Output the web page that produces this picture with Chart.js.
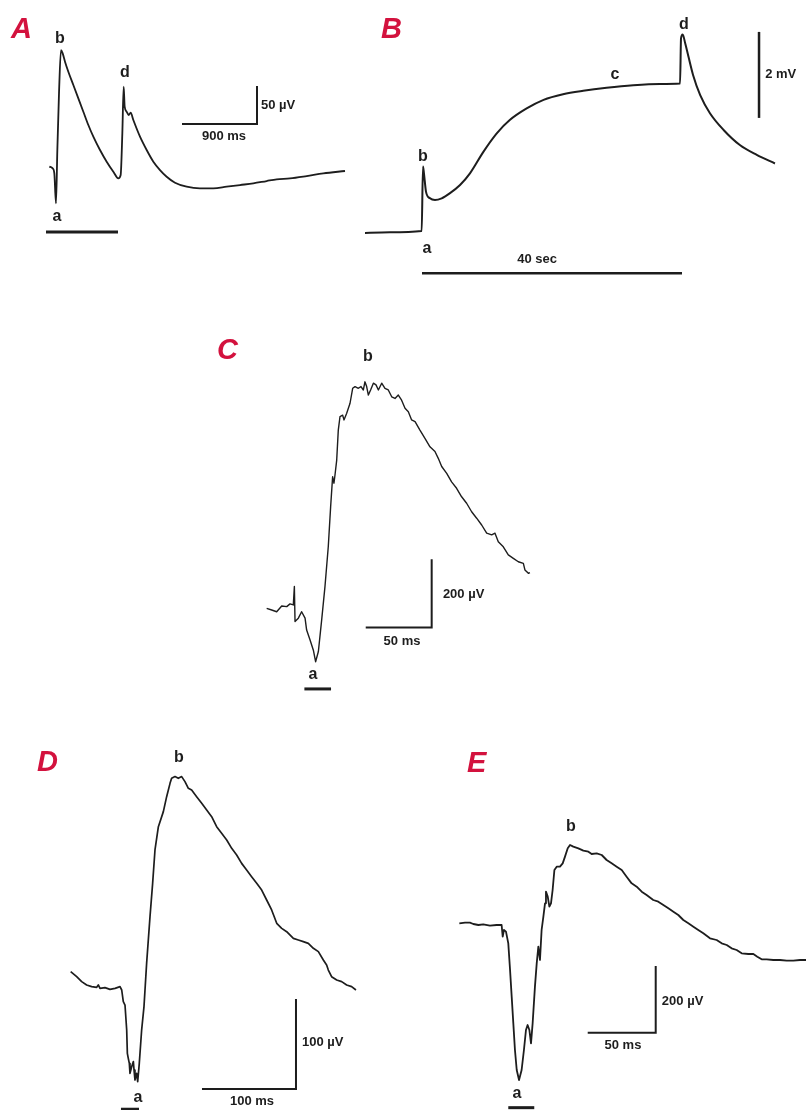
<!DOCTYPE html>
<html>
<head>
<meta charset="utf-8">
<script src="https://cdn.jsdelivr.net/npm/chart.js@4.4.0/dist/chart.umd.min.js"></script>
<style>
  body { margin: 0; background: #fff; }
  #fig { position: relative; width: 806px; height: 1110px; overflow: hidden; background: #fff; }
  #fig canvas { position: absolute; }
</style>
</head>
<body>
<div id="fig">
  <canvas id="panelA"></canvas>
  <canvas id="panelB"></canvas>
  <canvas id="panelC"></canvas>
  <canvas id="panelD"></canvas>
  <canvas id="panelE"></canvas>
</div>
<script>
// ---- recordings (time, potential) ----
// A: time in ms, potential in µV
const aTime = [4, 44, 64, 84, 100, 120, 144, 164, 192, 232, 292, 352, 412, 472, 532, 612, 692, 772, 832, 860,
  880, 896, 908, 932, 956, 980, 1012, 1092, 1172, 1252, 1332, 1412, 1512, 1652, 1812, 1972, 2132, 2292, 2452,
  2612, 2732, 2892, 3092, 3292, 3552];
const aVolt = [0.4, -1.8, -8.4, -48, 22.4, 97.2, 154.4, 150, 139, 125.8, 108.2, 90.6, 73, 55.4, 40, 22.4, 7, -6.2, -15, -10.6,
  44.4, 106, 79.6, 73, 68.6, 71.7, 62, 40, 22.4, 7, -4, -12.8, -20.7, -26, -28.2, -28.2, -26, -23.8, -21.6,
  -18.5, -16.3, -15, -11.9, -8.4, -5.3];

// B: time in s, potential in mV
const bTime = [-9.54, -4.92, -0.05, 0.15, 0.30, 0.62, 1.23, 2.0, 3.03, 4.31, 5.85, 7.38, 9.44, 11.5, 13.5, 16.1,
  18.7, 21.7, 24.8, 28.4, 32.5, 36.6, 39.7, 39.85, 40.1, 40.5, 41.0, 41.7, 42.8, 44.3, 46.4, 48.9, 51.5, 54.3];
const bVolt = [-0.05, -0.03, 0.0, 1.50, 1.34, 0.91, 0.76, 0.72, 0.76, 0.88, 1.07, 1.34, 1.84, 2.27, 2.58, 2.85,
  3.05, 3.18, 3.26, 3.33, 3.39, 3.42, 3.43, 4.48, 4.57, 4.36, 4.05, 3.63, 3.16, 2.74, 2.35, 2.0, 1.77, 1.57];

// C: time in ms, potential in µV
const cTime = [0, 3.8, 7.6, 11.4, 15.2, 17.7, 20.2, 21.0, 21.5, 24.0, 26.5, 29.1, 30.3, 32.9, 35.4, 37.1, 39.2, 41.7,
  44.2, 46.7, 48.5, 50.0, 51.0, 51.8, 53.1, 54.3, 55.6, 57.6, 58.6, 60.6, 63.2, 65.2, 67.0, 69.5, 71.5, 73.3, 74.5,
  75.8, 77.1, 78.8, 80.9, 82.9, 84.7, 87.2, 89.7, 92.2, 94.8, 97.3, 99.8, 102.3, 104.9, 107.4, 109.9, 112.5, 116.2,
  120.0, 123.8, 127.6, 130.1, 132.7, 136.5, 140.2, 144.0, 147.8, 151.6, 155.4, 159.2, 163.0, 166.8, 170.6, 173.1,
  175.6, 179.4, 183.2, 187.0, 190.8, 194.6, 195.8, 198.4, 199.6];
const cVolt = [0, -5, -10, 7, 5, 13, 10, 64, -39, -29, -10, -29, -64, -93, -123, -157, -127, -34,
  64, 181, 299, 387, 368, 392, 436, 524, 564, 568, 554, 573, 603, 647, 652, 647, 652, 642, 666,
  652, 627, 642, 662, 657, 642, 662, 647, 642, 622, 617, 627, 612, 588, 578, 554, 549, 524,
  500, 475, 461, 441, 417, 397, 372, 353, 328, 309, 284, 265, 245, 221, 216, 221,
  196, 181, 157, 147, 137, 132, 113, 103, 105];

// D: time in ms, potential in µV
const dTime = [0, 6.4, 11.7, 17.0, 22.3, 27.7, 29.4, 31.2, 36.5, 41.8, 47.2, 52.5, 54.3, 56.0, 57.8, 59.6, 60.3,
  61.3, 62.4, 63.1, 64.9, 66.7, 67.4, 68.4, 70.2, 71.3, 73.0, 75.5, 78.0, 80.8, 84.4, 87.2, 89.7, 93.3, 98.6,
  102.1, 105.7, 107.4, 111.0, 114.5, 118.1, 121.6, 125.2, 128.7, 134.0, 139.4, 144.7, 150.0, 155.3, 160.6,
  166.0, 171.3, 176.6, 181.9, 187.2, 192.5, 197.9, 203.2, 208.5, 213.8, 219.2, 224.5, 229.8, 236.9, 242.2,
  247.5, 252.8, 258.2, 263.5, 268.8, 272.3, 274.1, 277.6, 283.0, 288.3, 293.6, 298.9, 303.5];
const dVolt = [16.7, 11.1, 5.6, 1.9, 0, -0.7, 1.9, -1.9, -1.1, -3.0, -1.9, 0, -3.7, -16.7, -20.4, -48.2, -74.1,
  -79.6, -85.2, -96.3, -88.9, -83.3, -92.6, -103.7, -96.3, -105.6, -85.2, -48.2, -22.2, 25.9, 77.8, 114.8, 151.9, 177.8, 194.5,
  211.1, 225.9, 231.5, 233.4, 231.5, 233.4, 227.8, 220.4, 218.5, 211.1, 203.7, 196.3, 188.9, 177.8, 170.4,
  163.0, 153.7, 146.3, 137.0, 129.6, 122.2, 114.8, 107.4, 96.3, 85.2, 70.4, 64.8, 61.1, 53.7, 51.9,
  50.0, 48.1, 42.6, 38.9, 29.6, 24.1, 18.5, 11.1, 7.4, 5.6, 1.9, 0, -3.7];

// E: time in ms, potential in µV
const eTime = [0, 4.2, 7.8, 10.3, 14.0, 17.6, 22.5, 27.4, 31.1, 31.9, 32.8, 34.3, 36.0, 37.3, 38.5, 39.7, 40.9,
  42.2, 43.9, 45.8, 47.5, 49.0, 50.2, 51.5, 52.7, 53.9, 55.6, 56.9, 58.1, 59.3, 60.5, 61.8, 63.0, 63.7, 65.0,
  66.2, 67.4, 68.6, 69.9, 71.6, 74.0, 76.0, 77.7, 79.7, 81.4, 83.8, 87.5, 91.2, 94.9, 97.3, 101.0, 104.7, 108.3,
  112.0, 115.7, 119.4, 123.0, 126.7, 130.4, 134.1, 137.7, 142.6, 146.3, 150.0, 153.7, 157.4, 161.0, 164.7,
  168.4, 172.1, 175.7, 179.4, 184.3, 189.2, 192.9, 196.6, 200.2, 203.9, 207.6, 212.5, 216.2, 219.1, 222.3,
  226.0, 230.9, 235.8, 240.7, 245.6, 250.5, 255.4];
const eVolt = [5, 7, 7, 3, 0, 2, -2, 0, 0, -35, -15, -20, -55, -135, -215, -295, -375,
  -435, -465, -435, -375, -315, -300, -315, -355, -295, -185, -115, -65, -105, -15, 25, 65, 100, 85,
  55, 65, 105, 165, 175, 175, 185, 205, 230, 240, 235, 230, 223, 220, 213, 215, 210, 195,
  185, 175, 165, 145, 125, 115, 100, 90, 75, 70, 60, 50, 40, 30, 15,
  5, -5, -15, -25, -40, -45, -55, -60, -70, -75, -85, -87, -87, -95, -103,
  -103, -105, -105, -107, -107, -105, -105];

// calibration bars and stimulus durations
const aBarMs = 900, aBarUv = 50, aStim = [-36, 828];
const bBarSec = 40, bBarMv = 2, bStim = [0, 40];
const cBarMs = 50, cBarUv = 200, cStim = [28.6, 48.8];
const dBarMs = 100, dBarUv = 100, dStim = [53.5, 72.7];
const eBarMs = 50, eBarUv = 200, eStim = [36.0, 55.1];

const INK = '#1d1d1d';
const RED = '#d3123e';
const FONT = '"Liberation Sans", Arial, Helvetica, sans-serif';
const LETTER_FONT = 'italic bold 29px ' + FONT;
const MARK_FONT = 'bold 16px ' + FONT;
const BAR_FONT = 'bold 13px ' + FONT;

// text drawn at data positions of each panel
const panelText = {
  id: 'panelText',
  afterDatasetsDraw(chart, args, opts) {
    const ctx = chart.ctx, xs = chart.scales.x, ys = chart.scales.y;
    ctx.save();
    (opts.items || []).forEach(it => {
      ctx.font = it.font || MARK_FONT;
      ctx.fillStyle = it.color || INK;
      ctx.textAlign = it.align || 'center';
      ctx.textBaseline = it.baseline || 'middle';
      ctx.fillText(it.text, xs.getPixelForValue(it.x), ys.getPixelForValue(it.y));
    });
    ctx.restore();
  }
};
Chart.register(panelText);

function pts(xs, ys) {
  return xs.map((x, i) => ({ x: x, y: ys[i] }));
}
// smooth = slow drifting records, noisy ones are drawn point to point
function trace(xs, ys, w, smooth) {
  const ds = { data: pts(xs, ys), borderColor: INK, borderWidth: w, pointRadius: 0, clip: false };
  if (smooth) ds.cubicInterpolationMode = 'monotone';
  return ds;
}
function line(xs, ys, w) {
  return { data: pts(xs, ys), borderColor: INK, borderWidth: w, pointRadius: 0, clip: false,
           borderCapStyle: 'butt', borderJoinStyle: 'miter' };
}
// L-shaped calibration: horizontal bar ending at the corner, vertical bar rising from it
function calBar(cornerX, cornerY, dx, dy) {
  return line([cornerX - dx, cornerX, cornerX], [cornerY, cornerY, cornerY + dy], 2);
}
function letter(text, x, y) {
  return { text: text, x: x, y: y, font: LETTER_FONT, color: RED, align: 'left', baseline: 'alphabetic' };
}

// box = canvas placement, origin = page pixel of (0,0), scale = pixels per unit
function drawPanel(id, box, origin, scale, datasets, items) {
  const cv = document.getElementById(id);
  cv.width = box.w;
  cv.height = box.h;
  cv.style.left = box.left + 'px';
  cv.style.top = box.top + 'px';
  new Chart(cv, {
    type: 'line',
    data: { datasets: datasets },
    options: {
      responsive: false,
      animation: false,
      devicePixelRatio: 1,
      layout: { padding: 0 },
      plugins: { legend: { display: false }, tooltip: { enabled: false }, panelText: { items: items } },
      elements: { line: { tension: 0, borderJoinStyle: 'round' }, point: { radius: 0 } },
      scales: {
        x: { type: 'linear', display: false,
             min: (box.left - origin[0]) / scale[0], max: (box.left + box.w - origin[0]) / scale[0] },
        y: { type: 'linear', display: false,
             min: (origin[1] - box.top - box.h) / scale[1], max: (origin[1] - box.top) / scale[1] }
      }
    }
  });
}

drawPanel('panelA', { left: 0, top: 0, w: 365, h: 250 }, [49, 167], [1 / 12, 1 / 1.32], [
  trace(aTime, aVolt, 1.8, true),
  calBar(2496, 56.8, aBarMs, aBarUv),
  line(aStim, [-85.8, -85.8], 3)
], [
  letter('A', -456, 170),
  { text: 'b', x: 132, y: 169 },
  { text: 'd', x: 912, y: 124 },
  { text: 'a', x: 96, y: -66 },
  { text: aBarUv + ' µV', x: 2544, y: 81.8, font: BAR_FONT, align: 'left' },
  { text: aBarMs + ' ms', x: 2100, y: 40.9, font: BAR_FONT }
]);

drawPanel('panelB', { left: 365, top: 0, w: 441, h: 290 }, [422, 231], [6.5, 43], [
  trace(bTime, bVolt, 2, true),
  line([51.85, 51.85], [2.63, 2.63 + bBarMv], 2.5),
  line(bStim, [-0.98, -0.98], 2.5)
], [
  letter('B', -6.31, 4.49),
  { text: 'b', x: 0.15, y: 1.74 },
  { text: 'a', x: 0.77, y: -0.42 },
  { text: 'c', x: 29.7, y: 3.63 },
  { text: 'd', x: 40.3, y: 4.81 },
  { text: bBarMv + ' mV', x: 52.8, y: 3.63, font: BAR_FONT, align: 'left' },
  { text: bBarSec + ' sec', x: 17.7, y: -0.67, font: BAR_FONT }
]);

drawPanel('panelC', { left: 200, top: 310, w: 360, h: 390 }, [266.67, 608.33], [1.319, 0.3401], [
  trace(cTime, cVolt, 1.4, false),
  calBar(125.1, -56, cBarMs, cBarUv),
  line(cStim, [-237, -237], 3)
], [
  letter('C', -37.6, 733),
  { text: 'b', x: 76.8, y: 740 },
  { text: 'a', x: 35.1, y: -195 },
  { text: cBarUv + ' µV', x: 133.6, y: 42, font: BAR_FONT, align: 'left' },
  { text: cBarMs + ' ms', x: 102.6, y: -96, font: BAR_FONT }
]);

drawPanel('panelD', { left: 0, top: 730, w: 410, h: 380 }, [70.67, 986.67], [0.94, 0.9], [
  trace(dTime, dVolt, 1.7, false),
  calBar(239.7, -113.7, dBarMs, dBarUv),
  line(dStim, [-135.9, -135.9], 2.5)
], [
  letter('D', -35.8, 239.6),
  { text: 'b', x: 115.2, y: 254.1 },
  { text: 'a', x: 71.6, y: -123.7 },
  { text: dBarUv + ' µV', x: 246.1, y: -61.5, font: BAR_FONT, align: 'left' },
  { text: dBarMs + ' ms', x: 192.9, y: -127, font: BAR_FONT }
]);

drawPanel('panelE', { left: 420, top: 730, w: 386, h: 380 }, [459.33, 925], [1.36, 1 / 3], [
  trace(eTime, eVolt, 1.8, false),
  calBar(144.4, -323, eBarMs, eBarUv),
  line(eStim, [-548, -548], 3)
], [
  letter('E', 5.6, 459),
  { text: 'b', x: 82.1, y: 294 },
  { text: 'a', x: 42.4, y: -507 },
  { text: eBarUv + ' µV', x: 148.9, y: -228, font: BAR_FONT, align: 'left' },
  { text: eBarMs + ' ms', x: 120.3, y: -360, font: BAR_FONT }
]);
</script>
</body>
</html>
